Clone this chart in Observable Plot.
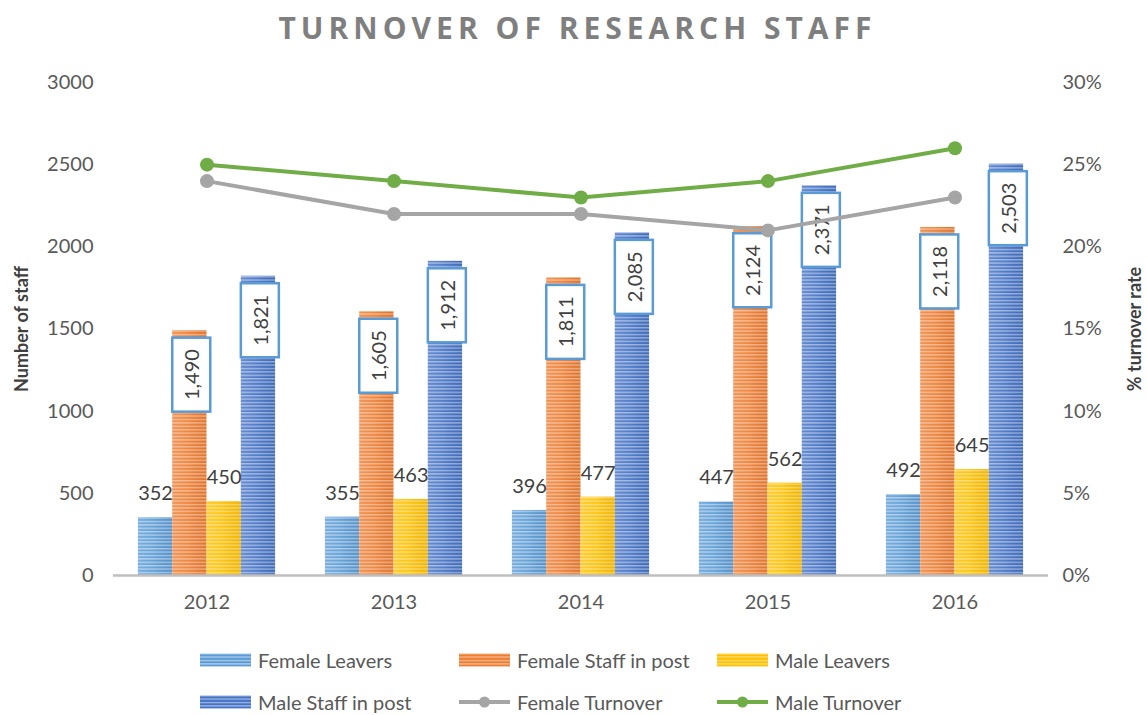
<!DOCTYPE html>
<html><head><meta charset="utf-8">
<script src="https://cdn.jsdelivr.net/npm/d3@7"></script>
<script src="https://cdn.jsdelivr.net/npm/@observablehq/plot@0.6"></script>
<style>
body{margin:0;background:#fff;font-family:Lato,"Open Sans",sans-serif;}
#wrap{position:relative;width:1147px;height:715px;overflow:hidden;background:#fff;}
#title{position:absolute;left:4px;top:8px;width:1147px;text-align:center;font-family:"Open Sans",Lato,sans-serif;font-weight:bold;font-size:30px;letter-spacing:5px;color:#7F7F7F;line-height:40px;}
#chart{position:absolute;left:0;top:55px;}
.leg{position:absolute;display:flex;align-items:center;font-size:20px;color:#595959;white-space:nowrap;}
.leg svg{margin-right:7px;}
</style></head><body>
<svg width="0" height="0" style="position:absolute"><defs>
<pattern id="pat0" patternUnits="userSpaceOnUse" width="8" height="3.4"><rect width="8" height="3.4" fill="#5B9BD5"/><rect width="8" height="1.4" fill="#A8CAEA"/></pattern>
<pattern id="pat1" patternUnits="userSpaceOnUse" width="8" height="3.4"><rect width="8" height="3.4" fill="#ED7D31"/><rect width="8" height="1.4" fill="#F6B48A"/></pattern>
<pattern id="pat2" patternUnits="userSpaceOnUse" width="8" height="3.4"><rect width="8" height="3.4" fill="#FFC000"/><rect width="8" height="1.4" fill="#FFDB70"/></pattern>
<pattern id="pat3" patternUnits="userSpaceOnUse" width="8" height="3.4"><rect width="8" height="3.4" fill="#4472C4"/><rect width="8" height="1.4" fill="#9AB2E0"/></pattern>
<linearGradient id="sheen" x1="0" x2="1" y1="0" y2="0"><stop offset="0" stop-color="#fff" stop-opacity="0.18"/><stop offset="0.45" stop-color="#fff" stop-opacity="0.08"/><stop offset="1" stop-color="#000" stop-opacity="0.05"/></linearGradient>
</defs></svg>
<div id="wrap"><div id="title">TURNOVER OF RESEARCH STAFF</div><div id="chart"></div><div id="legend"></div></div>
<script>
const years = [2012, 2013, 2014, 2015, 2016];
const femaleLeavers = [352, 355, 396, 447, 492];
const femaleStaff = [1490, 1605, 1811, 2124, 2118];
const maleLeavers = [450, 463, 477, 562, 645];
const maleStaff = [1821, 1912, 2085, 2371, 2503];
const femaleTurnover = [24, 22, 22, 21, 23]; // percent
const maleTurnover = [25, 24, 23, 24, 26];   // percent
const staffTicks = [0, 500, 1000, 1500, 2000, 2500, 3000];
const pctTicks = [0, 5, 10, 15, 20, 25, 30];
const barSeries = ["Female Leavers", "Female Staff in post", "Male Leavers", "Male Staff in post"];
const lineSeries = ["Female Turnover", "Male Turnover"];

const barColors = ["url(#pat0)", "url(#pat1)", "url(#pat2)", "url(#pat3)"];
const lineColors = ["#A5A5A5", "#70AD47"];

const BW = 0.1834, G0 = -0.3668;
const bars = [];
[femaleLeavers, femaleStaff, maleLeavers, maleStaff].forEach((arr, i) =>
  arr.forEach((v, j) => bars.push({
    year: years[j], i, series: barSeries[i], value: v,
    x1: years[j] + G0 + i * BW, x2: years[j] + G0 + (i + 1) * BW, xc: years[j] + G0 + (i + 0.5) * BW
  })));
const lines = [femaleTurnover, maleTurnover].map((arr, k) =>
  years.map((y, j) => ({year: y, pct: arr[j], v: arr[j] * 100, series: lineSeries[k]})));
const fmt = d3.format(",");

const plot = Plot.plot({
  width: 1147, height: 580,
  marginLeft: 113, marginRight: 99, marginTop: 27, marginBottom: 60,
  style: {fontFamily: "Lato, 'Open Sans', sans-serif", fontSize: "20px", color: "#595959", background: "transparent", overflow: "visible"},
  x: {type: "linear", domain: [2011.5, 2016.5]},
  y: {domain: [0, 3000]},
  marks: [
    ...[0, 1, 2, 3].map(i => Plot.rectY(bars.filter(d => d.i === i), {x1: "x1", x2: "x2", y1: 0, y2: "value", fill: barColors[i]})),
    Plot.rectY(bars, {x1: "x1", x2: "x2", y1: 0, y2: "value", fill: "url(#sheen)"}),
    Plot.ruleY([0], {stroke: "#BFBFBF", strokeWidth: 2.5}),
    Plot.axisY(staffTicks, {anchor: "left", tickSize: 0, tickPadding: 20, label: null, tickFormat: d => String(d)}),
    Plot.axisY(pctTicks.map(p => p * 100), {anchor: "right", tickSize: 0, tickPadding: 14, label: null, tickFormat: d => (d / 100) + "%"}),
    Plot.axisX(years, {anchor: "bottom", tickSize: 0, tickPadding: 19, label: null, tickFormat: d => String(d)}),
    Plot.text([0], {frameAnchor: "left", text: () => "Number of staff", rotate: -90, dx: -91, textAnchor: "middle", lineAnchor: "middle", fontWeight: "bold", fontSize: 18, fill: "#404040"}),
    Plot.text([0], {frameAnchor: "right", text: () => "% turnover rate", rotate: -90, dx: 87, textAnchor: "middle", lineAnchor: "middle", fontWeight: "bold", fontSize: 18, fill: "#404040"}),
    Plot.text(bars.filter(d => d.i % 2 === 0), {x: "xc", y: "value", text: d => fmt(d.value), dy: -24, lineAnchor: "middle", fill: "#404040", fontSize: 20}),
    Plot.text(bars.filter(d => d.i % 2 === 1), {x: "xc", y: "value", text: d => fmt(d.value), rotate: -90, dx: 3, dy: 44, textAnchor: "middle", lineAnchor: "middle", fill: "#404040", fontSize: 20}),
    ...lines.map((L, k) => Plot.line(L, {x: "year", y: "v", stroke: lineColors[k], strokeWidth: 4})),
    ...lines.map((L, k) => Plot.dot(L, {x: "year", y: "v", r: 7, fill: lineColors[k]}))
  ]
});
document.getElementById("chart").append(plot);

// white boxes with blue border behind the staff labels
const staffLabels = new Set([...femaleStaff, ...maleStaff].map(fmt));
d3.select(plot).selectAll("text").each(function() {
  if (this.childElementCount > 0 || !staffLabels.has(this.textContent.trim())) return;
  const b = this.getBBox();
  const cx = b.x + b.width / 2, cy = b.y + b.height / 2;
  const r = document.createElementNS("http://www.w3.org/2000/svg", "rect");
  r.setAttribute("x", cx - 37); r.setAttribute("y", cy - 19);
  r.setAttribute("width", 74); r.setAttribute("height", 38);
  r.setAttribute("fill", "#fff"); r.setAttribute("stroke", "#5B9BD5"); r.setAttribute("stroke-width", 2.5);
  const t = this.getAttribute("transform");
  if (t) r.setAttribute("transform", t);
  this.parentNode.insertBefore(r, this);
});

// legend
const legend = document.getElementById("legend");
const items = [
  {name: barSeries[0], kind: "bar", c: barColors[0], x: 200, y: 660},
  {name: barSeries[1], kind: "bar", c: barColors[1], x: 459, y: 660},
  {name: barSeries[2], kind: "bar", c: barColors[2], x: 717, y: 660},
  {name: barSeries[3], kind: "bar", c: barColors[3], x: 200, y: 702},
  {name: lineSeries[0], kind: "line", c: lineColors[0], x: 459, y: 702},
  {name: lineSeries[1], kind: "line", c: lineColors[1], x: 717, y: 702}
];
for (const it of items) {
  const div = document.createElement("div");
  div.className = "leg";
  div.style.left = it.x + "px";
  div.style.top = (it.y - 13) + "px";
  div.style.height = "26px";
  const sw = it.kind === "bar"
    ? `<svg width="51" height="14"><rect x="0" y="0.5" width="51" height="13" fill="${it.c}"/></svg>`
    : `<svg width="51" height="14"><line x1="0" x2="51" y1="7" y2="7" stroke="${it.c}" stroke-width="4"/><circle cx="25.5" cy="7" r="5.5" fill="${it.c}"/></svg>`;
  div.innerHTML = sw + `<span>${it.name}</span>`;
  legend.append(div);
}
</script>
</body></html>
